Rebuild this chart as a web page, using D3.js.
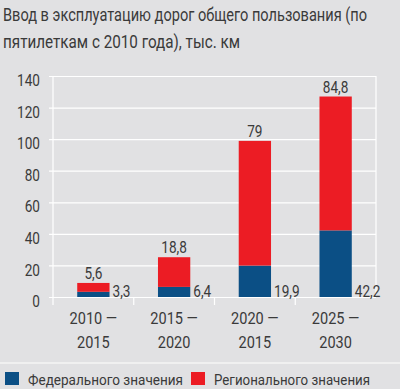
<!DOCTYPE html>
<html>
<head>
<meta charset="utf-8">
<script src="https://d3js.org/d3.v7.min.js"></script>
<style>
  body { margin: 0; background: #e1e1e3; }
  svg { display: block; background: #e1e1e3; font-family: "Roboto", sans-serif; }
</style>
</head>
<body>
<svg width="400" height="389"></svg>
<script>
var periods = [['2010 —', '2015'], ['2015 —', '2020'], ['2020 —', '2015'], ['2025 —', '2030']];
var federal = [3.3, 6.4, 19.9, 42.2];
var regional = [5.6, 18.8, 79, 84.8];
var yTicks = [0, 20, 40, 60, 80, 100, 120, 140];
var seriesNames = ['Федерального значения', 'Регионального значения'];
var colors = ['#0b4f85', '#ec1c24'];

var svg = d3.select('svg');
var L = 53, R = 376, T = 76, B = 297;
var ink = '#3a3a3a';

var x = d3.scaleBand()
    .domain(d3.range(periods.length))
    .range([L, R])
    .paddingInner(0.6)
    .paddingOuter(0.3);

var y = d3.scaleLinear()
    .domain([0, 140])
    .range([B, T]);

var fmt = function (v) { return String(v).replace('.', ','); };

// narrow font look: squeeze each text horizontally
function condense(sel, k) {
    sel.each(function () {
        var w = this.getComputedTextLength();
        d3.select(this).attr('textLength', w * k).attr('lengthAdjust', 'spacingAndGlyphs');
    });
}

// title
var title = svg.append('g').attr('fill', ink).style('font-size', '17.5px');
title.append('text').attr('x', 3).attr('y', 21).text('Ввод в эксплуатацию дорог общего пользования (по')
    .attr('textLength', 364).attr('lengthAdjust', 'spacingAndGlyphs');
title.append('text').attr('x', 3).attr('y', 48).text('пятилеткам с 2010 года), тыс. км')
    .attr('textLength', 237).attr('lengthAdjust', 'spacingAndGlyphs');

// grid
var yAxis = d3.axisLeft(y).tickValues(yTicks).tickSize(-(R - L)).tickPadding(13);
var gy = svg.append('g').attr('transform', 'translate(' + L + ',0)').call(yAxis);
gy.select('.domain').remove();
gy.selectAll('.tick line').attr('stroke', '#fff').attr('stroke-width', 1.2).attr('x1', -4);
gy.selectAll('.tick text').attr('fill', ink).attr('dy', '0.6em').style('font-size', '16px')
    .style('font-family', '"Roboto", sans-serif');
condense(gy.selectAll('.tick text'), 0.85);

// vertical frame lines
svg.append('line').attr('x1', L).attr('x2', L).attr('y1', T).attr('y2', B + 8)
    .attr('stroke', '#fff').attr('stroke-width', 1.2);
svg.append('line').attr('x1', R).attr('x2', R).attr('y1', T).attr('y2', B)
    .attr('stroke', '#fff').attr('stroke-width', 1.2);

// x ticks between categories
d3.range(1, periods.length).forEach(function (i) {
    var xx = x(i) - x.step() * x.paddingInner() / 2;
    svg.append('line').attr('x1', xx).attr('x2', xx).attr('y1', B).attr('y2', B + 8)
        .attr('stroke', '#fff').attr('stroke-width', 1.2);
});

// bars
var g = svg.append('g');
periods.forEach(function (p, i) {
    g.append('rect')
        .attr('x', x(i)).attr('width', x.bandwidth())
        .attr('y', y(federal[i])).attr('height', y(0) - y(federal[i]))
        .attr('fill', colors[0]);
    g.append('rect')
        .attr('x', x(i)).attr('width', x.bandwidth())
        .attr('y', y(federal[i] + regional[i])).attr('height', y(federal[i]) - y(federal[i] + regional[i]))
        .attr('fill', colors[1]);
    g.append('text')
        .attr('x', x(i) + x.bandwidth() / 2).attr('y', y(federal[i] + regional[i]) - 4)
        .attr('text-anchor', 'middle').attr('fill', ink).style('font-size', '16px')
        .text(fmt(regional[i]))
        .call(condense, 0.85);
    g.append('text')
        .attr('x', x(i) + x.bandwidth() + 3).attr('y', B)
        .attr('fill', ink).style('font-size', '16px')
        .text(fmt(federal[i]))
        .call(condense, 0.85);
    var lab = g.append('g').attr('fill', ink).style('font-size', '16.5px');
    lab.append('text').attr('text-anchor', 'middle').attr('x', x(i) + x.bandwidth() / 2).attr('y', 324)
        .text(p[0]).call(condense, 0.88);
    lab.append('text').attr('text-anchor', 'middle').attr('x', x(i) + x.bandwidth() / 2).attr('y', 348)
        .text(p[1]).call(condense, 0.88);
});

// separator
svg.append('line').attr('x1', 0).attr('x2', 400).attr('y1', 363).attr('y2', 363)
    .attr('stroke', '#f4f4f4').attr('stroke-width', 1.5);

// legend
var legX = [5, 191];
var legW = [155, 156];
seriesNames.forEach(function (name, i) {
    svg.append('rect').attr('x', legX[i]).attr('y', 372).attr('width', 14).attr('height', 13).attr('fill', colors[i]);
    svg.append('text').attr('x', legX[i] + 23).attr('y', 385).attr('fill', ink)
        .style('font-size', '15.5px').text(name)
        .attr('textLength', legW[i]).attr('lengthAdjust', 'spacingAndGlyphs');
});
</script>
</body>
</html>
